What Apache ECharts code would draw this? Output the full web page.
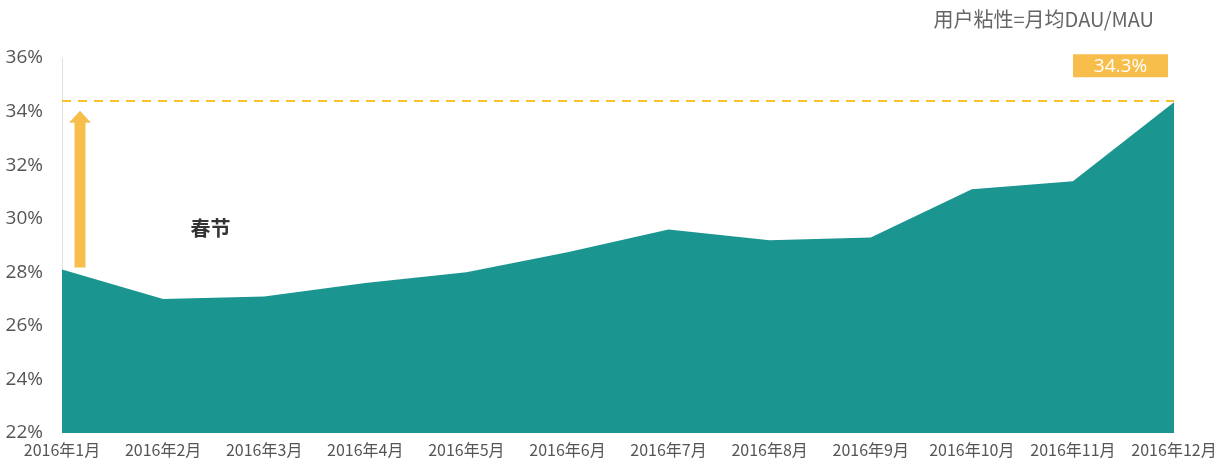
<!DOCTYPE html>
<html><head><meta charset="utf-8">
<script src="https://cdn.jsdelivr.net/npm/echarts@6/dist/echarts.min.js"></script>
<style>html,body{margin:0;padding:0;background:#fff}#c{width:1222px;height:473px}</style>
</head><body><div id="c"></div>
<script>
const categories = ['2016年1月','2016年2月','2016年3月','2016年4月','2016年5月','2016年6月','2016年7月','2016年8月','2016年9月','2016年10月','2016年11月','2016年12月'];
const stickiness = [28.1, 27.0, 27.1, 27.6, 28.0, 28.75, 29.6, 29.2, 29.3, 31.1, 31.4, 34.35];
const yTicks = [22, 24, 26, 28, 30, 32, 34, 36];
const titleText = '用户粘性=月均DAU/MAU';
const noteText = '春节';
const peakLabel = '34.3%';
const refLine = 34.4;

const FONT = '"Open Sans","Noto Sans CJK SC",sans-serif';
const CJK = '"Noto Sans CJK SC",sans-serif';
const TEAL = '#1B9590';
const YEL = '#F8BE4B';
const chart = echarts.init(document.getElementById('c'));
chart.setOption({
  animation: false,
  title: { text: titleText, right: 63, top: 4, textStyle: { fontFamily: CJK, fontSize: 20, fontWeight: 'normal', color: '#666' } },
  grid: { left: 62, right: 48, top: 58, bottom: 40 },
  xAxis: {
    type: 'category', data: categories, boundaryGap: false,
    axisLine: { show: false }, axisTick: { show: false },
    axisLabel: { color: '#555', fontSize: 16, fontFamily: CJK, margin: 9, interval: 0 }
  },
  yAxis: {
    type: 'value', min: yTicks[0], max: yTicks[yTicks.length-1], interval: 2,
    axisLine: { show: true, lineStyle: { color: '#e0e0e0', width: 1 } },
    axisTick: { show: false }, splitLine: { show: false },
    axisLabel: { color: '#555', fontSize: 19, fontFamily: FONT, margin: 19, formatter: v => v + '%' }
  },
  series: [{
    type: 'line', data: stickiness, symbol: 'none',
    lineStyle: { width: 0 }, areaStyle: { color: TEAL, opacity: 1 },
    markLine: {
      silent: true, symbol: 'none', label: { show: false },
      lineStyle: { color: '#F4C232', type: [9, 7], width: 2 },
      data: [{ yAxis: refLine }]
    }
  }]
});

function drawExtras() {
  const n = stickiness.length - 1;
  const p0 = chart.convertToPixel({ gridIndex: 0 }, [0, stickiness[0]]);
  const pTop = chart.convertToPixel({ gridIndex: 0 }, [0, refLine]);
  const pEnd = chart.convertToPixel({ gridIndex: 0 }, [n, stickiness[n]]);
  const pF = chart.convertToPixel({ gridIndex: 0 }, [1, 29.65]);
  const pM = chart.convertToPixel({ gridIndex: 0 }, [2, 29.65]);
  const ax = p0[0] + 18;
  const yb = p0[1] - 2, yt = pTop[1] + 10;
  const bx = pEnd[0] - 101, by = pEnd[1] - 48;
  chart.setOption({
    graphic: [
      { type: 'polygon', shape: { points: [[ax-5.5, yb], [ax+5.5, yb], [ax+5.5, yt+12], [ax+11, yt+12], [ax, yt], [ax-11, yt+12], [ax-5.5, yt+12]] }, style: { fill: YEL } },
      { type: 'text', x: pF[0] + (pM[0]-pF[0]) * 0.47, y: pF[1], style: { text: noteText, fill: '#333', fontSize: 20, fontWeight: 'bold', fontFamily: CJK, align: 'center', verticalAlign: 'middle' } },
      { type: 'rect', shape: { x: bx, y: by, width: 95, height: 23 }, style: { fill: YEL } },
      { type: 'text', x: bx + 47.5, y: by + 12, style: { text: peakLabel, fill: '#fff', fontSize: 19, fontFamily: FONT, align: 'center', verticalAlign: 'middle' } }
    ]
  });
}
drawExtras();
</script></body></html>
